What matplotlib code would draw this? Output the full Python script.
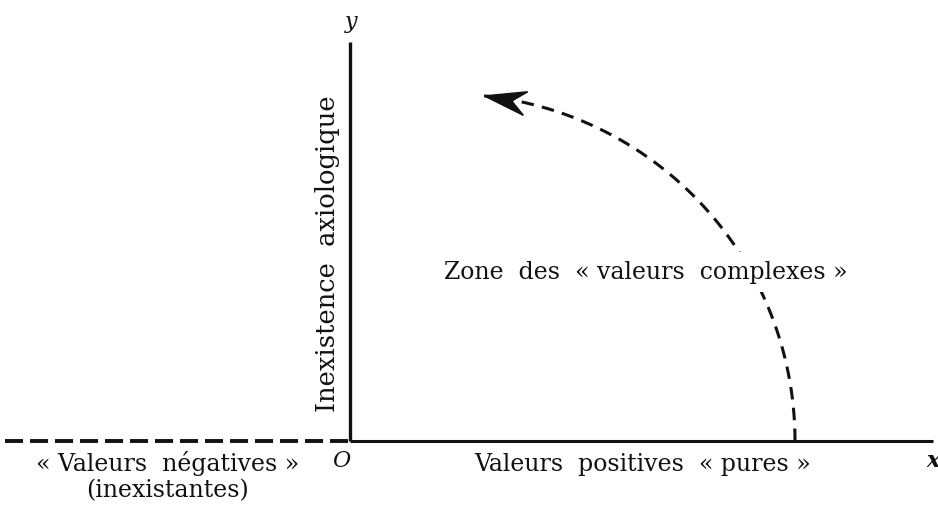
import numpy as np
import matplotlib
matplotlib.use("Agg")
import matplotlib.pyplot as plt

plt.rcParams['lines.scale_dashes'] = False
SERIF = ['DejaVu Serif']

# --- diagram content ---------------------------------------------------------
x_axis_label = "x"
y_axis_label = "y"
origin_label = "O"
y_axis_text = "Inexistence  axiologique"
positive_text = "Valeurs  positives  « pures »"
negative_text = "« Valeurs  négatives »"
negative_sub = "(inexistantes)"
zone_text = "Zone  des  « valeurs  complexes »"

# axes extents (diagram units, origin at O)
x_neg_end = -345
x_pos_end = 583
y_top = 399

# arc of the rotation (circle centred on the x axis)
arc_center_x = 98
arc_radius = 347
arc_start_deg = 0
arc_end_deg = 84

# --- figure -----------------------------------------------------------------
fig = plt.figure(figsize=(9.38, 5.09), dpi=100)
ax = fig.add_axes([0, 0, 1, 1])
ax.set_xlim(-350, 588)
ax.set_ylim(-68, 441)
ax.axis('off')

ink = '#111111'

# axes
ax.plot([0, x_pos_end], [0, 0], color=ink, lw=2.2, solid_capstyle='butt')
ax.plot([0, 0], [0, y_top], color=ink, lw=2.4, solid_capstyle='butt')
ax.plot([x_neg_end, 0], [0, 0], color=ink, lw=2.8, dashes=(13, 5),
        solid_capstyle='butt', dash_capstyle='butt')

# dashed arc
t = np.radians(np.linspace(arc_start_deg, arc_end_deg, 300))
ax_x = arc_center_x + arc_radius * np.cos(t)
ax_y = arc_radius * np.sin(t)
ax.plot(ax_x, ax_y, color=ink, lw=2.2, dashes=(9, 6), dash_capstyle='butt')

# arrow head at the arc end
te = np.radians(arc_end_deg)
tip = np.array([arc_center_x + arc_radius * np.cos(te), arc_radius * np.sin(te)])
back = np.array([np.sin(te), -np.cos(te)])
back = back + np.array([0, -0.08])
back /= np.linalg.norm(back)
perp = np.array([-back[1], back[0]])
head_len, head_w, notch = 42, 12, 28
poly = np.array([tip,
                 tip + back * head_len + perp * head_w,
                 tip + back * notch,
                 tip + back * head_len - perp * head_w])
ax.fill(poly[:, 0], poly[:, 1], color=ink, zorder=5)

# texts
FS = 17
ax.text(1, 419, y_axis_label, fontsize=16, style='italic', family=SERIF,
        ha='center', va='center', color=ink)
ax.text(583, -20, x_axis_label, fontsize=16, style='italic', weight='bold',
        family=SERIF, ha='center', va='center', color=ink)
ax.text(-9, -20, origin_label, fontsize=16, style='italic', family=SERIF,
        ha='center', va='center', color=ink)
ax.text(-22, 187, y_axis_text, fontsize=18.5, family=SERIF, rotation=90,
        ha='center', va='center', color=ink)
ax.text(293, -24, positive_text, fontsize=FS, family=SERIF,
        ha='center', va='center', color=ink)
ax.text(-182, -22, negative_text, fontsize=FS, family=SERIF,
        ha='center', va='center', color=ink)
ax.text(-182, -50, negative_sub, fontsize=FS, family=SERIF,
        ha='center', va='center', color=ink)
ax.text(296, 169, zone_text, fontsize=FS, family=SERIF,
        ha='center', va='center', color=ink, zorder=6,
        bbox=dict(facecolor='white', edgecolor='none', pad=6))

fig.savefig('out.png', dpi=100, facecolor='white')
